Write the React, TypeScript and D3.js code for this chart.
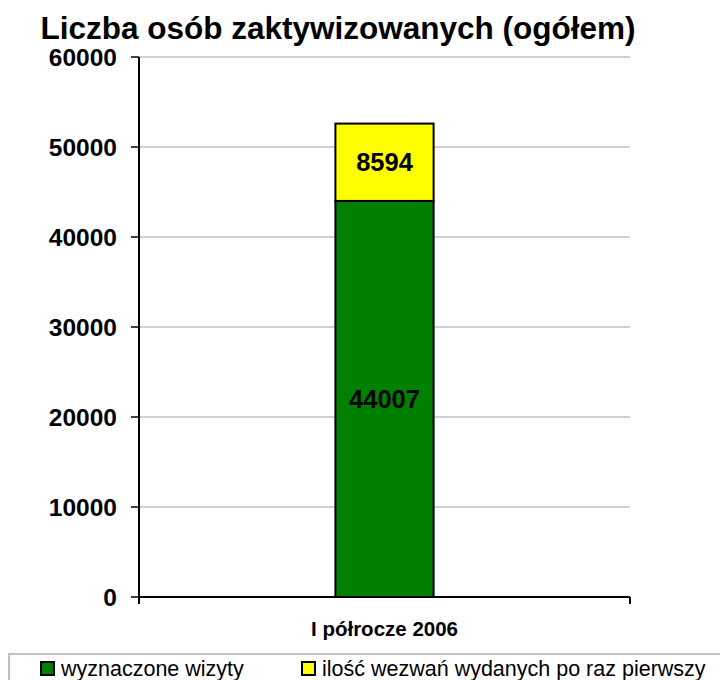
import React from 'react';
import * as d3 from 'd3';

const categories = ['I półrocze 2006'];
const seriesNames = ['wyznaczone wizyty', 'ilość wezwań wydanych po raz pierwszy'];
const seriesColors = ['#008000', '#ffff00'];
const visits = [44007];
const summons = [8594];
const yTicks = [0, 10000, 20000, 30000, 40000, 50000, 60000];

const W = 720;
const H = 680;
const font = 'Liberation Sans, Arial, sans-serif';

export default function App() {
  const margin = { left: 139, right: 90, top: 57, bottom: 83 };
  const x = d3.scaleBand().domain(categories).range([margin.left, W - margin.right]).paddingInner(0).paddingOuter(0);
  const y = d3.scaleLinear().domain([0, 60000]).range([H - margin.bottom, margin.top]);
  const barW = x.bandwidth() * 0.2;

  const rows = categories.map((c, i) => ({ c, vals: [visits[i], summons[i]] }));
  const stacked = d3.stack<any>().keys(['0', '1']).value((d, k) => d.vals[+k])(rows);

  return (
    <svg width={W} height={H} style={{ position: 'absolute', left: 0, top: 0, background: '#fff' }} fontFamily={font}>
      <text x={338} y={39} textAnchor="middle" fontSize={31.5} fontWeight="bold">Liczba osób zaktywizowanych (ogółem)</text>
      {yTicks.map(t => (
        <g key={t}>
          {t > 0 && <line x1={margin.left} x2={W - margin.right} y1={y(t)} y2={y(t)} stroke="#c0c0c0" strokeWidth={1.5} />}
          <line x1={margin.left - 8} x2={margin.left} y1={y(t)} y2={y(t)} stroke="#000" strokeWidth={1.5} />
          <text x={margin.left - 22} y={y(t)} dy="0.35em" textAnchor="end" fontSize={24.5} fontWeight="bold">{t}</text>
        </g>
      ))}
      {stacked.map((s, si) => s.map((d, di) => {
        const cx = x(categories[di])! + x.bandwidth() / 2;
        return (
          <g key={si + '-' + di}>
            <rect x={cx - barW / 2} y={y(d[1])} width={barW} height={y(d[0]) - y(d[1])} fill={seriesColors[si]} stroke="#000" strokeWidth={2} />
            <text x={cx} y={(y(d[0]) + y(d[1])) / 2} dy="0.35em" textAnchor="middle" fontSize={25.5} fontWeight="bold">{d[1] - d[0]}</text>
          </g>
        );
      }))}
      <line x1={margin.left} x2={margin.left} y1={margin.top} y2={y(0)} stroke="#000" strokeWidth={2} />
      <line x1={margin.left} x2={W - margin.right} y1={y(0)} y2={y(0)} stroke="#000" strokeWidth={2} />
      <line x1={margin.left} x2={margin.left} y1={y(0)} y2={y(0) + 7} stroke="#000" strokeWidth={2} />
      <line x1={W - margin.right} x2={W - margin.right} y1={y(0)} y2={y(0) + 7} stroke="#000" strokeWidth={2} />
      {categories.map(c => (
        <text key={c} x={x(c)! + x.bandwidth() / 2} y={y(0) + 39} textAnchor="middle" fontSize={20.5} fontWeight="bold">{c}</text>
      ))}
      <rect x={9} y={654} width={720} height={40} fill="#fff" stroke="#c0c0c0" strokeWidth={2} />
      {seriesNames.map((n, i) => {
        const lx = [41, 302][i];
        return (
          <g key={n}>
            <rect x={lx} y={662} width={13} height={13} fill={seriesColors[i]} stroke="#000" strokeWidth={2} />
            <text x={lx + 20} y={676} fontSize={21.5}>{n}</text>
          </g>
        );
      })}
    </svg>
  );
}
